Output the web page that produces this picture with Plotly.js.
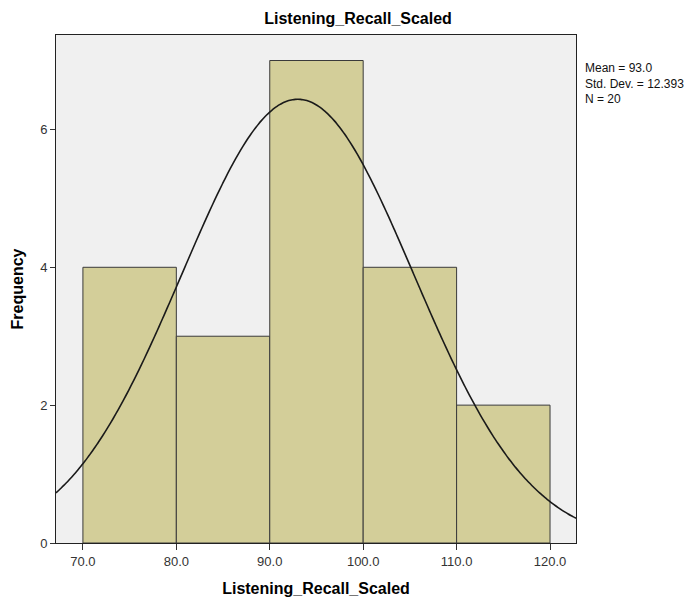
<!DOCTYPE html>
<html>
<head>
<meta charset="utf-8">
<script src="https://cdn.plot.ly/plotly-3.0.1.min.js"></script>
<style>html,body{margin:0;padding:0;background:#fff;}#chart{width:698px;height:603px;}</style>
</head>
<body>
<div id="chart"></div>
<script>
// Histogram bins (lower edges) and frequencies
const binStarts = [70, 80, 90, 100, 110];
const binWidth = 10;
const frequencies = [4, 3, 7, 4, 2];
// Summary statistics shown in the legend
const meanValue = 93.0;
const stdDev = 12.393;
const nCount = 20;
const xTickVals = [70, 80, 90, 100, 110, 120];
const xTickText = ["70.0", "80.0", "90.0", "100.0", "110.0", "120.0"];
const yTickVals = [0, 2, 4, 6];

const xRange = [67.12, 122.78];
const yRange = [0, 7.37];

const binCenters = binStarts.map(s => s + binWidth / 2);

// Normal curve scaled to counts
const curveX = [], curveY = [];
const steps = 200;
for (let i = 0; i <= steps; i++) {
  const x = xRange[0] + (xRange[1] - xRange[0]) * i / steps;
  const z = (x - meanValue) / stdDev;
  curveX.push(x);
  curveY.push(nCount * binWidth * Math.exp(-0.5 * z * z) / (stdDev * Math.sqrt(2 * Math.PI)));
}

const traces = [
  {
    type: 'bar', x: binCenters, y: frequencies, width: binWidth,
    marker: {color: '#d3ce99', line: {color: '#3a3a3a', width: 1}},
    hoverinfo: 'skip', showlegend: false
  },
  {
    type: 'scatter', mode: 'lines', x: curveX, y: curveY,
    line: {color: '#1a1a1a', width: 1.6, shape: 'spline'},
    hoverinfo: 'skip', showlegend: false
  }
];

const layout = {
  width: 698, height: 603,
  margin: {l: 56, r: 122, t: 35, b: 60, pad: 0},
  paper_bgcolor: '#ffffff',
  plot_bgcolor: '#f0f0f0',
  font: {family: 'Liberation Sans, Arial, sans-serif', color: '#222'},
  title: {
    text: '<b>Listening_Recall_Scaled</b>',
    font: {size: 16, color: '#000', family: 'Liberation Sans, Arial, sans-serif'},
    x: 0.513, xref: 'container', xanchor: 'center',
    y: 0.97, yref: 'container', yanchor: 'middle'
  },
  bargap: 0,
  xaxis: {
    range: xRange, tickvals: xTickVals, ticktext: xTickText,
    ticks: 'outside', ticklen: 6, tickcolor: '#333', tickwidth: 1,
    showline: true, linecolor: '#222', linewidth: 1, mirror: true,
    showgrid: false, zeroline: false,
    tickfont: {size: 13, color: '#333'},
    title: {text: '<b>Listening_Recall_Scaled</b>', font: {size: 16, color: '#000'}, standoff: 15}
  },
  yaxis: {
    range: yRange, tickvals: yTickVals,
    ticks: 'outside', ticklen: 5, tickcolor: '#333', tickwidth: 1,
    showline: true, linecolor: '#222', linewidth: 1, mirror: true,
    showgrid: false, zeroline: false,
    tickfont: {size: 13, color: '#333'},
    title: {text: '<b>Frequency</b>', font: {size: 16, color: '#000'}, standoff: 12}
  },
  annotations: [{
    xref: 'paper', yref: 'paper', x: 1.014, y: 0.952, xanchor: 'left', yanchor: 'top',
    text: 'Mean = ' + meanValue.toFixed(1) + '<br>Std. Dev. = ' + stdDev.toFixed(3) + '<br>N = ' + nCount,
    showarrow: false, align: 'left',
    font: {size: 12, color: '#111', family: 'Liberation Sans, Arial, sans-serif'}
  }]
};

Plotly.newPlot('chart', traces, layout, {displayModeBar: false, staticPlot: true});
</script>
</body>
</html>
